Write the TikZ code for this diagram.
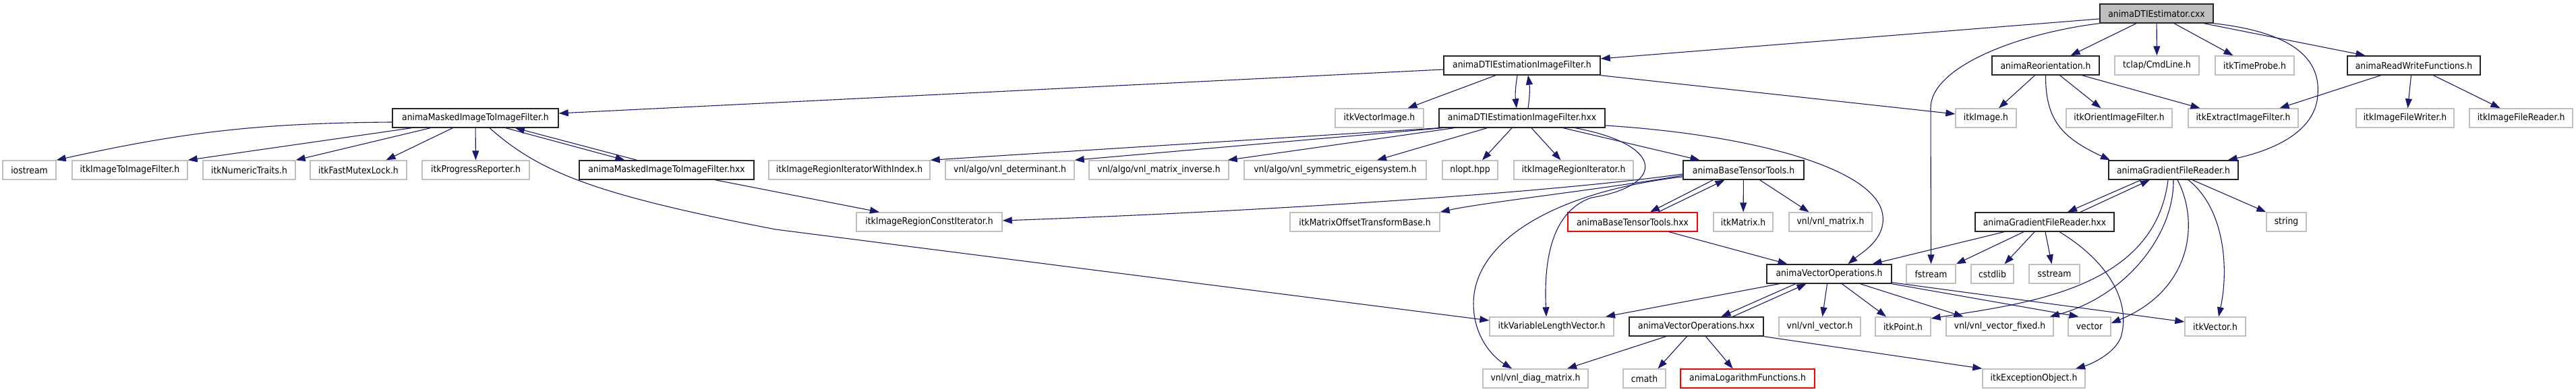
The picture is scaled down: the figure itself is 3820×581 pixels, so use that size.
\documentclass[tikz,border=0pt]{standalone}
\usepackage{fontspec}
\setmainfont{DejaVu Sans}[FakeStretch=0.905]
\usepackage{xcolor}
\usetikzlibrary{arrows.meta}
\definecolor{edgeblue}{HTML}{191970}
\definecolor{leafgray}{HTML}{BFBFBF}
\definecolor{rootgray}{HTML}{BFBFBF}

\begin{document}
\begin{tikzpicture}[
    x=0.5pt, y=-0.5pt,
    filebox/.style={
        draw,
        fill=white,
        line width=0.7pt,
        inner sep=0pt,
        minimum height=14pt,
        font=\fontsize{6.85pt}{8pt}\selectfont
    },
    hdr/.style={filebox, draw=black!85},
    leaf/.style={filebox, draw=leafgray},
    trunc/.style={filebox, draw=red},
    root/.style={filebox, draw=black!85, fill=rootgray},
    dep/.style={draw=edgeblue, line width=0.55pt, -{Triangle[length=7pt,width=5pt]}}
]
\useasboundingbox (0,0) rectangle (3820,581);

\node[root, minimum width=84pt] (R) at (3198,20) {animaDTIEstimator.cxx};

\node[hdr, minimum width=116pt] (dti) at (2257,97) {animaDTIEstimationImageFilter.h};
\node[hdr, minimum width=79.5pt] (reo) at (3033.5,97) {animaReorientation.h};
\node[leaf, minimum width=62.5pt] (tclap) at (3198.5,97) {tclap/CmdLine.h};
\node[leaf, minimum width=58.5pt] (tp) at (3343.5,97) {itkTimeProbe.h};
\node[hdr, minimum width=98.5pt] (rw) at (3579.5,97) {animaReadWriteFunctions.h};

\node[hdr, minimum width=123pt] (mask) at (705,175) {animaMaskedImageToImageFilter.h};
\node[leaf, minimum width=65.5pt] (vi) at (2045.5,175) {itkVectorImage.h};
\node[hdr, minimum width=123pt] (dtix) at (2257,175) {animaDTIEstimationImageFilter.hxx};
\node[leaf, minimum width=45pt] (img) at (2945,175) {itkImage.h};
\node[leaf, minimum width=78.5pt] (oif) at (3142.5,175) {itkOrientImageFilter.h};
\node[leaf, minimum width=81.5pt] (eif) at (3326.5,175) {itkExtractImageFilter.h};
\node[leaf, minimum width=72.5pt] (fw) at (3566.5,175) {itkImageFileWriter.h};
\node[leaf, minimum width=76.5pt] (fr) at (3738.5,175) {itkImageFileReader.h};

\node[leaf, minimum width=39.5pt] (ios) at (43.5,252) {iostream};
\node[leaf, minimum width=85.5pt] (itf) at (192.5,252) {itkImageToImageFilter.h};
\node[leaf, minimum width=68.5pt] (nt) at (369.5,252) {itkNumericTraits.h};
\node[leaf, minimum width=71.5pt] (fm) at (531.5,252) {itkFastMutexLock.h};
\node[leaf, minimum width=79.5pt] (pr) at (705.5,252) {itkProgressReporter.h};
\node[hdr, minimum width=129.5pt] (mx) at (988.5,252) {animaMaskedImageToImageFilter.hxx};
\node[leaf, minimum width=119.5pt] (iwi) at (1259.5,252) {itkImageRegionIteratorWithIndex.h};
\node[leaf, minimum width=95.5pt] (det) at (1497.5,252) {vnl/algo/vnl\_determinant.h};
\node[leaf, minimum width=103.5pt] (inv) at (1718.5,252) {vnl/algo/vnl\_matrix\_inverse.h};
\node[leaf, minimum width=135pt] (eig) at (1980,252) {vnl/algo/vnl\_symmetric\_eigensystem.h};
\node[leaf, minimum width=41pt] (nl) at (2180,252) {nlopt.hpp};
\node[leaf, minimum width=88.5pt] (rit) at (2333.5,252) {itkImageRegionIterator.h};
\node[hdr, minimum width=89.5pt] (btt) at (2585.5,252) {animaBaseTensorTools.h};
\node[hdr, minimum width=96pt] (grd) at (3223,252) {animaGradientFileReader.h};

\node[leaf, minimum width=108pt] (rci) at (1378,329) {itkImageRegionConstIterator.h};
\node[leaf, minimum width=111pt] (mob) at (2024,329) {itkMatrixOffsetTransformBase.h};
\node[trunc, minimum width=96pt] (bttx) at (2421,329) {animaBaseTensorTools.hxx};
\node[leaf, minimum width=44pt] (mat) at (2585,329) {itkMatrix.h};
\node[leaf, minimum width=61.5pt] (vm) at (2714.5,329) {vnl/vnl\_matrix.h};
\node[hdr, minimum width=103pt] (grdx) at (3032,329) {animaGradientFileReader.hxx};
\node[leaf, minimum width=29.5pt] (str) at (3390.5,329) {string};

\node[hdr, minimum width=92.5pt] (vo) at (2712.5,406) {animaVectorOperations.h};
\node[leaf, minimum width=36.5pt] (fs) at (2863.5,406) {fstream};
\node[leaf, minimum width=31.5pt] (cs) at (2954.5,406) {cstdlib};
\node[leaf, minimum width=37.5pt] (ss) at (3046.5,406) {sstream};

\node[leaf, minimum width=92pt] (vlv) at (2301,484) {itkVariableLengthVector.h};
\node[hdr, minimum width=99.5pt] (vox) at (2515.5,484) {animaVectorOperations.hxx};
\node[leaf, minimum width=60.5pt] (vv) at (2698.5,484) {vnl/vnl\_vector.h};
\node[leaf, minimum width=41pt] (pt) at (2822,484) {itkPoint.h};
\node[leaf, minimum width=79.5pt] (vf) at (2965.5,484) {vnl/vnl\_vector\_fixed.h};
\node[leaf, minimum width=31.5pt] (vec) at (3098.5,484) {vector};
\node[leaf, minimum width=45pt] (iv) at (3285,484) {itkVector.h};

\node[leaf, minimum width=78pt] (diag) at (2277,561) {vnl/vnl\_diag\_matrix.h};
\node[leaf, minimum width=31.5pt] (cm) at (2438.5,561) {cmath};
\node[trunc, minimum width=99.5pt] (log) at (2591.5,561) {animaLogarithmFunctions.h};
\node[leaf, minimum width=76pt] (exc) at (3016,561) {itkExceptionObject.h};

\draw[dep] ([yshift=-4pt]R.west) -- ([yshift=5pt]dti.east);
\draw[dep] (R.south west) .. controls (2990,50) and (2863,100) .. (2863,160) -- (fs.north);
\draw[dep] ([xshift=-15pt]R.south) -- ([xshift=18.5pt]reo.north);
\draw[dep] (R) -- (tclap);
\draw[dep] ([xshift=13pt]R.south) -- ([xshift=-16pt]tp.north);
\draw[dep] ([xshift=35pt]R.south) -- ([xshift=-36pt]rw.north);
\draw[dep] (R.south east) .. controls (3420,50) and (3440,100) .. (3437,140)
  .. controls (3434,200) and (3360,225) .. ([xshift=-8pt]grd.north east);

\draw[dep] ([yshift=-3pt]dti.west) -- ([yshift=3.5pt]mask.east);
\draw[dep] ([xshift=-19.5pt]dti.south) -- ([xshift=21pt]vi.north);
\draw[dep] ([xshift=-3.5pt]dti.south) to[bend right=8] ([xshift=-4pt]dtix.north);
\draw[dep] ([xshift=4.5pt]dtix.north) to[bend right=8] ([xshift=4.5pt]dti.south);
\draw[dep] (dti.south east) -- ([yshift=3pt]img.west);

\draw[dep] ([yshift=-3pt]mask.west) to[bend right=6] (ios.north east);
\draw[dep] ([xshift=14.5pt]mask.south west) -- (itf.north east);
\draw[dep] ([xshift=28.5pt]mask.south west) -- (nt.north east);
\draw[dep] ([xshift=45pt]mask.south west) -- ([xshift=20.5pt]fm.north);
\draw[dep] (mask) -- (pr);
\draw[dep] ([xshift=22.5pt]mask.south) -- ([xshift=-31pt]mx.north);
\draw[dep] ([xshift=-22pt]mx.north) -- ([xshift=29.5pt]mask.south);
\draw[dep] ([xshift=10.5pt]mask.south) .. controls (800,255) and (880,288) .. (1150,340)
  -- ([yshift=4.5pt]vlv.west);
\draw[dep] ([xshift=36pt]mx.south) -- ([xshift=-37pt]rci.north);

\draw[dep] (dtix.south west) -- (iwi.north east);
\draw[dep] ([xshift=3pt]dtix.south west) -- (det.north east);
\draw[dep] ([xshift=11.5pt]dtix.south west) -- ([xshift=-1pt]inv.north east);
\draw[dep] ([xshift=36pt]dtix.south west) -- ([xshift=31pt]eig.north);
\draw[dep] ([xshift=-7.5pt]dtix.south) -- ([xshift=9pt]nl.north);
\draw[dep] ([xshift=7pt]dtix.south) -- ([xshift=-9.5pt]rit.north);
\draw[dep] ([xshift=30.5pt]dtix.south) -- ([xshift=-32.5pt]btt.north);
\draw[dep] ([yshift=-5.5pt]dtix.east) .. controls (2600,200) and (2785,250) .. (2792,320)
  .. controls (2796,355) and (2760,375) .. ([xshift=14pt]vo.north);
\draw[dep] ([xshift=39.5pt]dtix.south) .. controls (2470,215) and (2470,275) .. (2360,293)
  .. controls (2295,315) and (2290,400) .. ([xshift=-4pt]vlv.north);

\draw[dep] ([yshift=-3pt]btt.west) .. controls (2300,285) and (1900,312) .. ([yshift=1pt]rci.east);
\draw[dep] ([yshift=-4pt]btt.west) .. controls (2380,280) and (2200,300) .. (mob.north east);
\draw[dep] ([yshift=-5pt]btt.west) .. controls (2300,285) and (2185,360) .. (2185,450)
  .. controls (2185,500) and (2215,530) .. ([xshift=-17.5pt]diag.north);
\draw[dep] ([xshift=-22.5pt]btt.south) -- ([xshift=13pt]bttx.north);
\draw[dep] ([xshift=19pt]bttx.north) -- ([xshift=-14pt]btt.south);
\draw[dep] (btt) -- (mat);
\draw[dep] ([xshift=12pt]btt.south) -- ([xshift=-16pt]vm.north);
\draw[dep] ([xshift=27pt]bttx.south) -- ([xshift=-31pt]vo.north);

\draw[dep] ([xshift=-37pt]vo.south) -- ([xshift=40pt]vlv.north);
\draw[dep] ([xshift=-25pt]vo.south) -- ([xshift=18.5pt]vox.north);
\draw[dep] ([xshift=27pt]vox.north) -- ([xshift=-17pt]vo.south);
\draw[dep] ([xshift=-1.5pt]vo.south) -- ([xshift=2pt]vv.north);
\draw[dep] ([xshift=9.5pt]vo.south) -- ([xshift=-12.5pt]pt.north);
\draw[dep] ([xshift=23pt]vo.south) -- ([xshift=-27pt]vf.north);
\draw[dep] (vo.south east) -- ([xshift=-8pt]vec.north);
\draw[dep] ([yshift=1pt]vo.south east) -- ([yshift=3.5pt]iv.west);

\draw[dep] ([xshift=-22.5pt]vox.south) -- ([xshift=23.5pt]diag.north);
\draw[dep] ([xshift=-7pt]vox.south) -- ([xshift=10pt]cm.north);
\draw[dep] ([xshift=7pt]vox.south) -- ([xshift=-11pt]log.north);
\draw[dep] (vox.south east) -- (exc.north west);

\draw[dep] ([xshift=-8pt]reo.south) -- ([xshift=9.5pt]img.north);
\draw[dep] ([xshift=10.5pt]reo.south) -- ([xshift=-13.5pt]oif.north);
\draw[dep] ([xshift=27pt]reo.south) -- ([xshift=-32pt]eif.north);
\draw[dep] (reo.south) .. controls (3033,180) and (3060,205) .. ([xshift=-47pt]grd.north);

\draw[dep] ([xshift=-24.5pt]rw.south) -- ([xshift=27pt]eif.north);
\draw[dep] ([xshift=-2pt]rw.south) -- ([xshift=2pt]fw.north);
\draw[dep] ([xshift=14.5pt]rw.south) -- ([xshift=-15.5pt]fr.north);

\draw[dep] ([xshift=-24pt]grd.south) -- ([xshift=17pt]grdx.north);
\draw[dep] ([xshift=26.5pt]grdx.north) -- ([xshift=-17.5pt]grd.south);
\draw[dep] ([xshift=14pt]grd.south) -- (str.north west);
\draw[dep] ([xshift=11pt]grd.south) .. controls (3300,310) and (3305,400) .. ([xshift=2.5pt]iv.north);
\draw[dep] ([xshift=3pt]grd.south) .. controls (3262,330) and (3250,430) .. ([yshift=2.5pt]vec.east);
\draw[dep] (grd.south) .. controls (3224,350) and (3150,440) .. ([xshift=-3pt]vf.north east);
\draw[dep] ([xshift=-4pt]grd.south) .. controls (3195,430) and (3000,450) .. ([yshift=6pt]pt.east);

\draw[dep] ([xshift=-30pt]grdx.south) -- ([xshift=32pt]vo.north);
\draw[dep] ([xshift=-15.5pt]grdx.south) -- (fs.north east);
\draw[dep] ([xshift=-7.5pt]grdx.south) -- ([xshift=9pt]cs.north);
\draw[dep] ([xshift=0.5pt]grdx.south) -- ([xshift=-2pt]ss.north);
\draw[dep] ([xshift=11pt]grdx.south) .. controls (3130,390) and (3160,450) .. (3145,500)
  .. controls (3135,525) and (3100,540) .. ([xshift=31pt]exc.north);
\end{tikzpicture}
\end{document}
